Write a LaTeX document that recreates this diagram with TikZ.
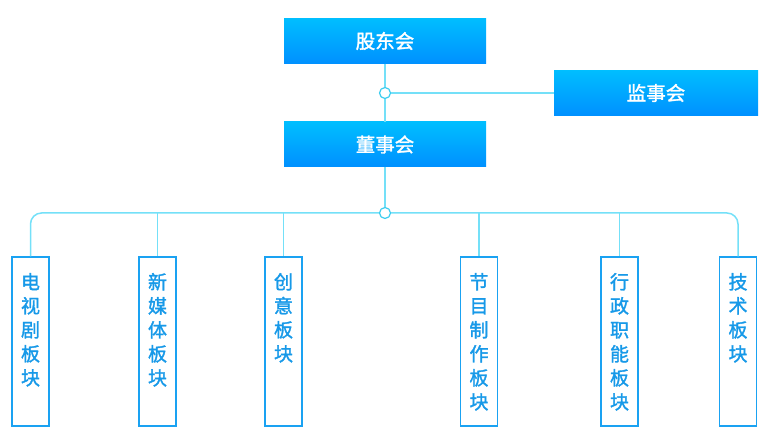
\documentclass[tikz,border=0pt]{standalone}
\usepackage{fontspec}
\setmainfont{Noto Sans CJK SC}
\newfontfamily\medf{Noto Sans CJK SC}[FakeBold=1.6]
\usetikzlibrary{calc}
\definecolor{topA}{HTML}{00BEFF}
\definecolor{topB}{HTML}{0090FF}
\definecolor{linec}{HTML}{74E0F8}
\definecolor{circc}{HTML}{3CCDF0}
\definecolor{boxc}{HTML}{1AA2F2}
\definecolor{txtc}{HTML}{1799E8}
\begin{document}
\begin{tikzpicture}[x=1pt,y=-1pt,
  topbox/.style={rectangle, minimum width=202pt, minimum height=45pt, inner sep=0pt,
     top color=topA, bottom color=topB, text=white, font=\medf\fontsize{19.5}{20}\selectfont},
  sidebox/.style={rectangle, minimum width=204pt, minimum height=45pt, inner sep=0pt,
     top color=topA, bottom color=topB, text=white, font=\medf\fontsize{19.5}{20}\selectfont},
  vbox/.style={draw=boxc, line width=1.3pt, minimum width=37pt, minimum height=169pt, inner sep=0pt},
  vtext/.style={text=txtc, align=center, font=\medf\fontsize{19}{24}\selectfont, inner sep=0pt, anchor=north},
  conn/.style={draw=linec, line width=1.5pt},
  junc/.style={circle, draw=circc, fill=white, line width=1.2pt, minimum size=11pt, inner sep=0pt}
]
\useasboundingbox (0,0) rectangle (771,446);
\node[topbox] (gd) at (385,41) {股东会};
\node[topbox] (ds) at (385,144.5) {董事会};
\node[sidebox] (js) at (656,93) {监事会};
\node[junc] (j1) at (385,93) {};
\node[junc] (j2) at (385,213) {};

\node[vbox] (b1) at (30.5,341.5) {};
\node[vbox] (b2) at (157.5,341.5) {};
\node[vbox] (b3) at (283.5,341.5) {};
\node[vbox] (b4) at (479,341.5) {};
\node[vbox] (b5) at (619.5,341.5) {};
\node[vbox] (b6) at (738,341.5) {};

\node[vtext] (t1) at ($(b1.north)+(0,16.5)$) {电\\视\\剧\\板\\块};
\node[vtext] (t2) at ($(b2.north)+(0,16.5)$) {新\\媒\\体\\板\\块};
\node[vtext] (t3) at ($(b3.north)+(0,16.5)$) {创\\意\\板\\块};
\node[vtext] (t4) at ($(b4.north)+(0,16.5)$) {节\\目\\制\\作\\板\\块};
\node[vtext] (t5) at ($(b5.north)+(0,16.5)$) {行\\政\\职\\能\\板\\块};
\node[vtext] (t6) at ($(b6.north)+(0,16.5)$) {技\\术\\板\\块};

\draw[conn] (gd.south) -- (j1.north);
\draw[conn] (j1.south) -- (ds.north);
\draw[conn] (j1.east) -- (js.west);
\draw[conn] (ds.south) -- (j2.north);
\draw[conn, rounded corners=11pt] (j2.west) -- (b1.north |- j2) -- (b1.north);
\draw[conn, rounded corners=11pt] (j2.east) -- (b6.north |- j2) -- (b6.north);
\draw[conn] (b2.north |- j2) -- (b2.north);
\draw[conn] (b3.north |- j2) -- (b3.north);
\draw[conn] (b4.north |- j2) -- (b4.north);
\draw[conn] (b5.north |- j2) -- (b5.north);
\end{tikzpicture}
\end{document}
